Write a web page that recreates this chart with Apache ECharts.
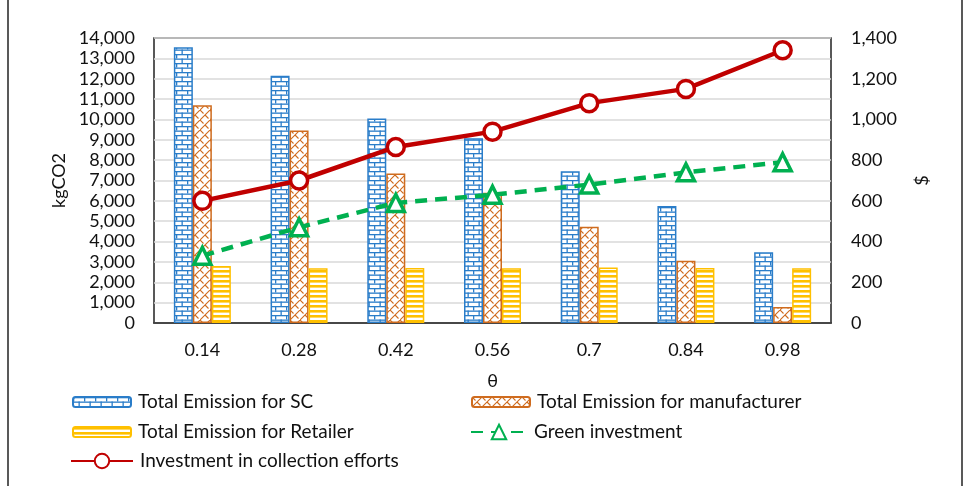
<!DOCTYPE html>
<html>
<head>
<meta charset="utf-8">
<script src="https://cdn.jsdelivr.net/npm/echarts@6/dist/echarts.min.js"></script>
<style>
  html, body { margin: 0; padding: 0; background: #fff; }
  #chart { width: 971px; height: 486px; }
</style>
</head>
<body>
<div id="chart"></div>
<script>
// data
const categories = ['0.14', '0.28', '0.42', '0.56', '0.7', '0.84', '0.98']
const emissionSC = [13540, 12150, 10050, 9070, 7460, 5750, 3480]
const emissionManufacturer = [10700, 9460, 7350, 6400, 4730, 3060, 780]
const emissionRetailer = [2800, 2690, 2700, 2690, 2730, 2700, 2690]
const greenInvestment = [330, 470, 590, 630, 680, 740, 790]
const collectionInvestment = [600, 700, 865, 940, 1080, 1150, 1340]
const leftTicks = { min: 0, max: 14000, interval: 1000 }
const rightTicks = { min: 0, max: 1400, interval: 200 }

const BLUE = '#2a7dc9'
const ORANGE = '#cf6c1f'
const YELLOW = '#ffc000'
const RED = '#c00000'
const GREEN = '#00b050'
const FONT = 'Lato, "Open Sans", sans-serif'
const TXT = '#111'

const makeTile = function (w, h, draw) {
  const c = document.createElement('canvas')
  c.width = w
  c.height = h
  const g = c.getContext('2d')
  g.fillStyle = '#fff'
  g.fillRect(0, 0, w, h)
  draw(g)
  return { image: c, repeat: 'repeat' }
}

// brick pattern
const brickFill = makeTile(11, 9, (g) => {
  g.fillStyle = BLUE
  g.fillRect(0, 0, 11, 1.3)
  g.fillRect(0, 4.5, 11, 1.3)
  g.fillRect(0, 0, 1.3, 4.5)
  g.fillRect(5.5, 4.5, 1.3, 4.5)
})
// zigzag pattern
const zigzagFill = makeTile(10, 10, (g) => {
  g.strokeStyle = ORANGE
  g.lineWidth = 1.1
  g.beginPath()
  g.moveTo(0, 10)
  g.lineTo(10, 0)
  g.moveTo(0, 0)
  g.lineTo(3.5, 3.5)
  g.moveTo(5, 5)
  g.lineTo(8.5, 8.5)
  g.stroke()
})
// horizontal stripes
const stripeFill = makeTile(4, 5, (g) => {
  g.fillStyle = YELLOW
  g.fillRect(0, 0, 4, 2.6)
})

const fmt = (v) => v.toLocaleString('en-US')

const legendAt = function (name, left, top, w, h) {
  return {
    data: [name],
    left: left,
    top: top,
    padding: 0,
    itemWidth: w,
    itemHeight: h,
    itemGap: 0,
    selectedMode: false,
    textStyle: { fontFamily: FONT, fontSize: 19, color: TXT, lineHeight: 22, padding: [0, 0, 0, 2] },
  }
}

const option = {
  animation: false,
  backgroundColor: '#fff',
  textStyle: { fontFamily: FONT },
  grid: { left: 154, right: 140, top: 38, bottom: 163, show: true, borderColor: '#222', borderWidth: 1.5 },
  legend: [
    legendAt('Total Emission for SC', 72, 391, 58, 10),
    legendAt('Total Emission for manufacturer', 471, 391, 58, 10),
    legendAt('Total Emission for Retailer', 72, 421, 58, 10),
    legendAt('Green investment', 470, 421, 56, 18),
    legendAt('Investment in collection efforts', 70, 450, 62, 18),
  ],
  xAxis: {
    type: 'category',
    data: categories,
    name: 'θ',
    nameLocation: 'middle',
    nameGap: 49,
    nameTextStyle: { fontSize: 18, color: TXT },
    axisLine: { lineStyle: { color: '#222', width: 1.5 } },
    axisTick: { show: false },
    axisLabel: { fontSize: 18, color: TXT, margin: 18 },
  },
  yAxis: [
    {
      type: 'value',
      ...leftTicks,
      name: 'kgCO2',
      nameLocation: 'middle',
      nameGap: 86,
      nameTextStyle: { fontSize: 18, color: TXT },
      axisLine: { show: false },
      axisLabel: { fontSize: 18, color: TXT, margin: 19, formatter: fmt },
      splitLine: { lineStyle: { color: '#d9d9d9', width: 1.5 } },
    },
    {
      type: 'value',
      ...rightTicks,
      name: '$',
      nameLocation: 'middle',
      nameGap: 82,
      nameTextStyle: { fontSize: 18, color: TXT },
      axisLine: { show: false },
      axisLabel: { fontSize: 18, color: TXT, margin: 20, formatter: fmt },
      splitLine: { show: false },
    },
  ],
  series: [
    {
      name: 'Total Emission for SC',
      type: 'bar',
      data: emissionSC,
      barWidth: 19,
      barGap: '0%',
      itemStyle: { color: brickFill, borderColor: BLUE, borderWidth: 1.5 },
    },
    {
      name: 'Total Emission for manufacturer',
      type: 'bar',
      data: emissionManufacturer,
      barWidth: 19,
      barGap: '0%',
      itemStyle: { color: zigzagFill, borderColor: ORANGE, borderWidth: 1.5 },
    },
    {
      name: 'Total Emission for Retailer',
      type: 'bar',
      data: emissionRetailer,
      barWidth: 19,
      barGap: '0%',
      itemStyle: { color: stripeFill, borderColor: YELLOW, borderWidth: 1.5 },
    },
    {
      name: 'Green investment',
      type: 'line',
      yAxisIndex: 1,
      data: greenInvestment,
      symbol: 'triangle',
      symbolSize: 17,
      z: 4,
      lineStyle: { color: GREEN, width: 4.5, type: [12, 8] },
      itemStyle: { color: '#fff', borderColor: GREEN, borderWidth: 3.5 },
    },
    {
      name: 'Investment in collection efforts',
      type: 'line',
      yAxisIndex: 1,
      data: collectionInvestment,
      symbol: 'circle',
      symbolSize: 17,
      z: 5,
      lineStyle: { color: RED, width: 4.5 },
      itemStyle: { color: '#fff', borderColor: RED, borderWidth: 3.5 },
    },
  ],
  graphic: [
    { type: 'line', shape: { x1: 8, y1: 0, x2: 8, y2: 486 }, style: { stroke: '#222', lineWidth: 1.5 } },
    { type: 'line', shape: { x1: 962, y1: 0, x2: 962, y2: 486 }, style: { stroke: '#222', lineWidth: 1.5 } },
  ],
}

const chart = echarts.init(document.getElementById('chart'))
chart.setOption(option)
</script>
</body>
</html>
